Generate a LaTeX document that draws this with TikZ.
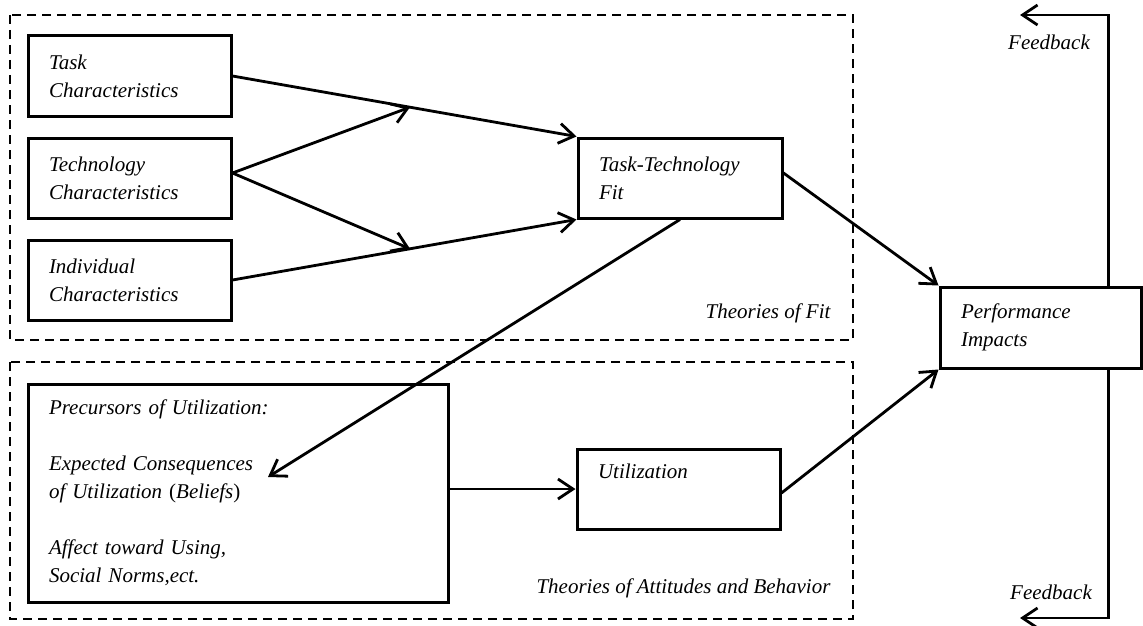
\documentclass[tikz,border=0pt]{standalone}
\usepackage{fontspec}
\setmainfont{Liberation Serif}
\usetikzlibrary{arrows.meta,calc}
\begin{document}
\begin{tikzpicture}[x=1pt,y=-1pt,
  txt/.style={font=\fontsize{21}{28}\selectfont\itshape},
  box/.style={txt,draw,line width=3pt,rectangle,minimum height=80pt,inner xsep=21pt,inner ysep=0pt,align=left},
  arr/.style={line width=2.8pt,-{Straight Barb[length=15pt,width=20pt,line width=2.8pt]}},
  dashbox/.style={line width=2.8pt,dash pattern=on 9pt off 6pt}]
\useasboundingbox (0,0) rectangle (1143,626);
\draw[dashbox] (10,15) rectangle (853,340);
\draw[dashbox] (10,362) rectangle (853,619);
\node[box,text width=161pt] (task) at (129.5,76) {Task\\Characteristics};
\node[box,text width=161pt] (tech) at (129.5,178) {Technology\\Characteristics};
\node[box,text width=161pt] (indiv) at (129.5,280) {Individual\\Characteristics};
\node[box,text width=162pt] (ttf) at (680,178) {Task-Technology\\Fit};
\node[box,text width=159pt,minimum height=81pt] (perf) at (1040.5,327.5) {Performance\\Impacts};
\node[box,text width=378pt,minimum height=218pt] (prec) at (238,493) {Precursors of Utilization:\\[28pt]Expected Consequences\\of Utilization {\upshape(}Beliefs{\upshape)}\\[28pt]Affect toward Using,\\Social Norms,ect.};
\node[box,text width=161pt] (util) at (678.5,489) {Utilization\\\strut};
\node[txt,anchor=east] (fitlbl) at (834,313) {Theories of Fit};
\node[txt,anchor=east] (attlbl) at (834,588) {Theories of Attitudes and Behavior};
\node[txt] (fbt) at (1049,42) {Feedback};
\node[txt] (fbb) at (1051,592) {Feedback};
\coordinate (up) at ($(task.east)!0.516!(ttf.north west)$);
\coordinate (dn) at ($(indiv.east)!0.516!(ttf.south west)$);
\coordinate (bel) at (268,477);
\coordinate (fbtop) at (1020,15);
\coordinate (fbbot) at (1020,618);
\draw[arr] (task.east) -- (ttf.north west);
\draw[arr] (indiv.east) -- (ttf.south west);
\draw[arr] ([yshift=5pt]tech.east) -- (up);
\draw[arr] ([yshift=5pt]tech.east) -- (dn);
\draw[arr] ([yshift=5pt]ttf.east) -- (perf.north west);
\draw[arr] (ttf.south) -- (bel);
\draw[arr] (util.west -| prec.east) -- (util.west);
\draw[arr] ([yshift=-4pt]util.east) -- (perf.south west);
\draw[arr] ([xshift=170pt]perf.north west) |- (fbtop);
\draw[arr] ([xshift=170pt]perf.south west) |- (fbbot);
\end{tikzpicture}
\end{document}
